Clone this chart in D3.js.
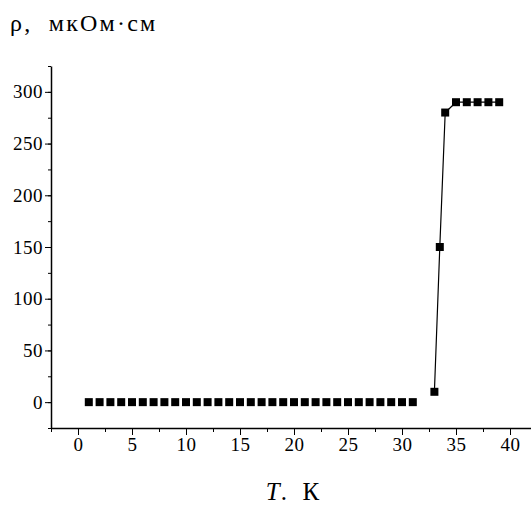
<!DOCTYPE html>
<html>
<head>
<meta charset="utf-8">
<script src="https://cdn.jsdelivr.net/npm/d3@7"></script>
<style>
  body { margin: 0; background: #fff; }
</style>
</head>
<body>
<div id="chart"></div>
<script>
// temperature, K
const temps = [1, 2, 3, 4, 5, 6, 7, 8, 9, 10, 11, 12, 13, 14, 15, 16, 17, 18, 19, 20,
  21, 22, 23, 24, 25, 26, 27, 28, 29, 30, 31, 33, 33.5, 34, 35, 36, 37, 38, 39];
// resistivity, µΩ·cm
const rho = [0, 0, 0, 0, 0, 0, 0, 0, 0, 0, 0, 0, 0, 0, 0, 0, 0, 0, 0, 0,
  0, 0, 0, 0, 0, 0, 0, 0, 0, 0, 0, 10, 150, 280, 290, 290, 290, 290, 290];
const xTicks = [0, 5, 10, 15, 20, 25, 30, 35, 40];
const yTicks = [0, 50, 100, 150, 200, 250, 300];

const serif = '"Liberation Serif", serif';

const width = 531, height = 506;
const svg = d3.select('#chart').append('svg')
  .attr('width', width)
  .attr('height', height);

const x = d3.scaleLinear().domain([-2.5, 42.5]).range([51, 537]);
const y = d3.scaleLinear().domain([-25, 325]).range([428, 66]);

const data = temps.map((t, i) => ({ t, r: rho[i] }));

// y axis: minor then major ticks
svg.append('g')
  .attr('transform', `translate(${x(-2.5)},0)`)
  .call(d3.axisLeft(y).tickValues(d3.range(-25, 326, 25)).tickSize(3).tickFormat(''))
  .call(g => g.select('.domain').remove())
  .selectAll('line').attr('stroke', '#000');
svg.append('g')
  .attr('transform', `translate(${x(-2.5)},0)`)
  .call(d3.axisLeft(y).tickValues(yTicks).tickSize(6).tickSizeOuter(0).tickPadding(2))
  .call(g => g.select('.domain').attr('stroke', '#000').attr('stroke-width', 1.5))
  .call(g => g.selectAll('text').attr('font-family', serif).style('font-size', '19px')
    .style('letter-spacing', '0.5px').attr('fill', '#000'))
  .call(g => g.selectAll('line').attr('stroke', '#000'));

// x axis
svg.append('g')
  .attr('transform', `translate(0,${y(-25)})`)
  .call(d3.axisBottom(x).tickValues(d3.range(-2.5, 40.1, 2.5)).tickSize(4).tickFormat(''))
  .call(g => g.select('.domain').remove())
  .selectAll('line').attr('stroke', '#000');
svg.append('g')
  .attr('transform', `translate(0,${y(-25)})`)
  .call(d3.axisBottom(x).tickValues(xTicks).tickSize(7).tickSizeOuter(0).tickPadding(3))
  .call(g => g.select('.domain').attr('stroke', '#000').attr('stroke-width', 1.5))
  .call(g => g.selectAll('text').attr('font-family', serif).style('font-size', '19px')
    .style('letter-spacing', '0.5px').attr('fill', '#000'))
  .call(g => g.selectAll('line').attr('stroke', '#000'));

// connecting line, drawn through the transition points only
svg.append('path')
  .datum(data.filter(d => d.t >= 33))
  .attr('fill', 'none')
  .attr('stroke', '#000')
  .attr('stroke-width', 1.2)
  .attr('d', d3.line().x(d => x(d.t)).y(d => y(d.r)));

// square markers
const s = 8;
svg.append('g').selectAll('rect')
  .data(data)
  .join('rect')
  .attr('x', d => x(d.t) - s / 2)
  .attr('y', d => y(d.r) - s / 2)
  .attr('width', s)
  .attr('height', s)
  .attr('fill', '#000');

// titles
svg.append('text')
  .attr('x', 10)
  .attr('y', 31)
  .attr('font-family', serif)
  .style('font-size', '24px')
  .style('letter-spacing', '2.2px')
  .style('white-space', 'pre')
  .text('ρ,  мкОм·см');

const xl = svg.append('text')
  .attr('x', 293)
  .attr('y', 500)
  .attr('text-anchor', 'middle')
  .attr('font-family', serif)
  .style('font-size', '25px')
  .style('letter-spacing', '1px')
  .style('white-space', 'pre');
xl.append('tspan').style('font-style', 'italic').text('T');
xl.append('tspan').text('.  К');
</script>
</body>
</html>
